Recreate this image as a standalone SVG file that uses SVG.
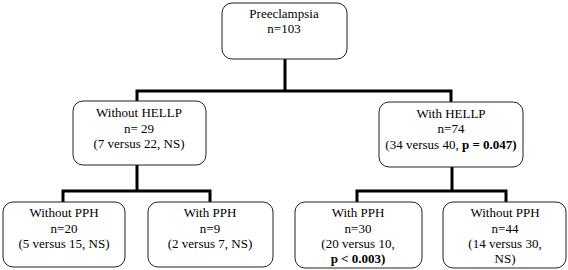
<svg xmlns="http://www.w3.org/2000/svg" width="568" height="270" viewBox="0 0 568 270">
<style>
.box{fill:#fff;stroke:#222;stroke-width:1}
.b{font-weight:bold}
.c{fill:none;stroke:#000;stroke-width:3}
</style>
<rect width="568" height="270" fill="#fff"/>
<g id="connectors">
<path class="c" d="M285,59V91M137,91H451M137,89.5V101M451,89.5V102"/>
<path class="c" d="M137,165V191M63,191H210M63,189.5V202M210,189.5V202"/>
<path class="c" d="M452,167V191M357,191H506M357,189.5V202M506,189.5V202"/>
</g>
<g font-family="Liberation Serif, Times New Roman, serif" font-size="13" text-anchor="middle" fill="#000">
<g id="preeclampsia">
<rect class="box" x="222" y="3" width="125" height="56" rx="10"/>
<text x="284" y="18">Preeclampsia</text>
<text x="284" y="33">n=103</text>
</g>
<g id="without-hellp">
<rect class="box" x="73" y="101" width="133" height="64" rx="10"/>
<text x="139" y="117">Without HELLP</text>
<text x="139" y="133">n= 29</text>
<text x="139" y="148">(7 versus 22, NS)</text>
</g>
<g id="with-hellp">
<rect class="box" x="379" y="102" width="144" height="65" rx="10"/>
<text x="451" y="118">With HELLP</text>
<text x="451" y="133">n=74</text>
<text x="451" y="149">(34 versus 40, <tspan class="b">p = 0.047)</tspan></text>
</g>
<g id="without-pph-1">
<rect class="box" x="3" y="202" width="122" height="65" rx="10"/>
<text x="64" y="217">Without PPH</text>
<text x="64" y="233">n=20</text>
<text x="64" y="248">(5 versus 15, NS)</text>
</g>
<g id="with-pph-1">
<rect class="box" x="148" y="202" width="125" height="65" rx="10"/>
<text x="210" y="217">With PPH</text>
<text x="210" y="233">n=9</text>
<text x="210" y="248">(2 versus 7, NS)</text>
</g>
<g id="with-pph-2">
<rect class="box" x="295" y="202" width="127" height="66" rx="10"/>
<text x="358" y="217">With PPH</text>
<text x="358" y="233">n=30</text>
<text x="358" y="248">(20 versus 10,</text>
<text class="b" x="358" y="263">p &lt; 0.003)</text>
</g>
<g id="without-pph-2">
<rect class="box" x="443" y="202" width="123" height="66" rx="10"/>
<text x="505" y="217">Without PPH</text>
<text x="505" y="233">n=44</text>
<text x="505" y="248">(14 versus 30,</text>
<text x="505" y="263">NS)</text>
</g>
</g>
</svg>
